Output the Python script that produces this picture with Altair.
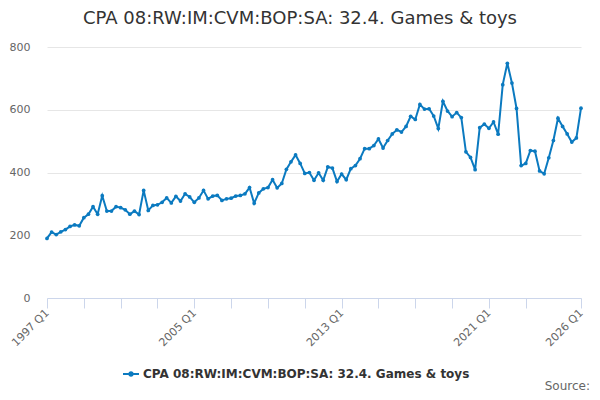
import pandas as pd
import altair as alt

years = list(range(1997, 2027))
quarters = [f"{y} Q{q}" for y in years for q in (1, 2, 3, 4)][:117]

# values, 1997 Q1 .. 2026 Q1
values = [
    190, 210, 202, 211, 218, 228, 233, 230, 256, 267, 291, 267, 326, 277, 277, 291,
    288, 281, 267, 277, 266, 343, 279, 295, 297, 305, 319, 303, 324, 309, 332, 322,
    305, 319, 343, 316, 325, 327, 311, 316, 318, 325, 327, 332, 352, 302, 335, 348,
    352, 377, 351, 365, 410, 434, 456, 429, 397, 400, 375, 399, 375, 418, 414, 371,
    395, 377, 412, 422, 444, 476, 476, 486, 507, 478, 502, 523, 536, 529, 547, 579,
    569, 617, 602, 603, 580, 540, 627, 596, 578, 591, 575, 466, 448, 409, 543, 554,
    541, 561, 522, 680, 748, 685, 604, 422, 429, 470, 468, 405, 396, 447, 502, 573,
    547, 523, 497, 510, 605,
]

tick_quarters = ["1997 Q1", "1999 Q1", "2001 Q1", "2003 Q1", "2005 Q1", "2007 Q1",
                 "2009 Q1", "2011 Q1", "2013 Q1", "2015 Q1", "2017 Q1", "2019 Q1",
                 "2021 Q1", "2023 Q1", "2026 Q1"]
label_quarters = ["1997 Q1", "2005 Q1", "2013 Q1", "2021 Q1", "2026 Q1"]
y_ticks = [0, 200, 400, 600, 800]

series_name = "CPA 08:RW:IM:CVM:BOP:SA: 32.4. Games & toys"
line_color = "#0b7ac0"
font = "DejaVu Sans"

df = pd.DataFrame({"quarter": quarters, "value": values, "series": series_name})

label_test = " || ".join(f"datum.value == '{q}'" for q in label_quarters)

x = alt.X("quarter:O", sort=None, title=None,
          scale=alt.Scale(type="point", padding=0),
          axis=alt.Axis(values=tick_quarters, labelExpr=f"({label_test}) ? datum.value : ''",
                        labelAngle=-45, labelAlign="right", labelBaseline="middle",
                        labelPadding=3, tickSize=10, tickColor="#ccd6eb",
                        domainColor="#ccd6eb", grid=False, labelColor="#666666",
                        labelFontSize=11, labelFont=font, labelOverlap=False))
y = alt.Y("value:Q", title=None,
          scale=alt.Scale(domain=[0, 800], nice=False),
          axis=alt.Axis(values=y_ticks, domain=False, ticks=False, labelPadding=17,
                        gridColor="#e6e6e6", labelColor="#666666", labelFontSize=11,
                        labelFont=font))

legend_symbol = "M-1.6,0H1.6M0.35,0A0.35,0.35,0,1,1,-0.35,0A0.35,0.35,0,1,1,0.35,0Z"

line = alt.Chart(df).mark_line(strokeWidth=2).encode(
    x=x, y=y,
    color=alt.Color("series:N", scale=alt.Scale(range=[line_color]),
                    legend=alt.Legend(title=None, orient="none", legendX=78, legendY=321,
                                      symbolType=legend_symbol, symbolSize=100,
                                      symbolStrokeWidth=2, symbolFillColor=line_color,
                                      labelFont=font, labelFontSize=12, labelFontWeight="bold",
                                      labelColor="#333333", labelLimit=500, labelOffset=6)),
)
points = alt.Chart(df).mark_point(filled=True, size=14, opacity=1).encode(
    x=x, y=y, color=alt.Color("series:N", legend=None)
)
source = alt.Chart(pd.DataFrame({"t": ["Source:"]})).mark_text(
    align="right", baseline="alphabetic", font=font, fontSize=12, color="#666666"
).encode(x=alt.value(543), y=alt.value(343), text="t:N")

chart = alt.layer(line, points, source).properties(
    width=534, height=251,
    autosize=alt.AutoSizeParams(type="none"),
    padding={"left": 39, "top": 39, "right": 11, "bottom": 94},
    title=alt.TitleParams(series_name, anchor="middle", dx=-14, offset=13, fontSize=18,
                          font=font, fontWeight="normal", color="#333333"),
).configure_view(stroke=None)

chart.save("out.html", embed_options={"renderer": "svg", "actions": False})
